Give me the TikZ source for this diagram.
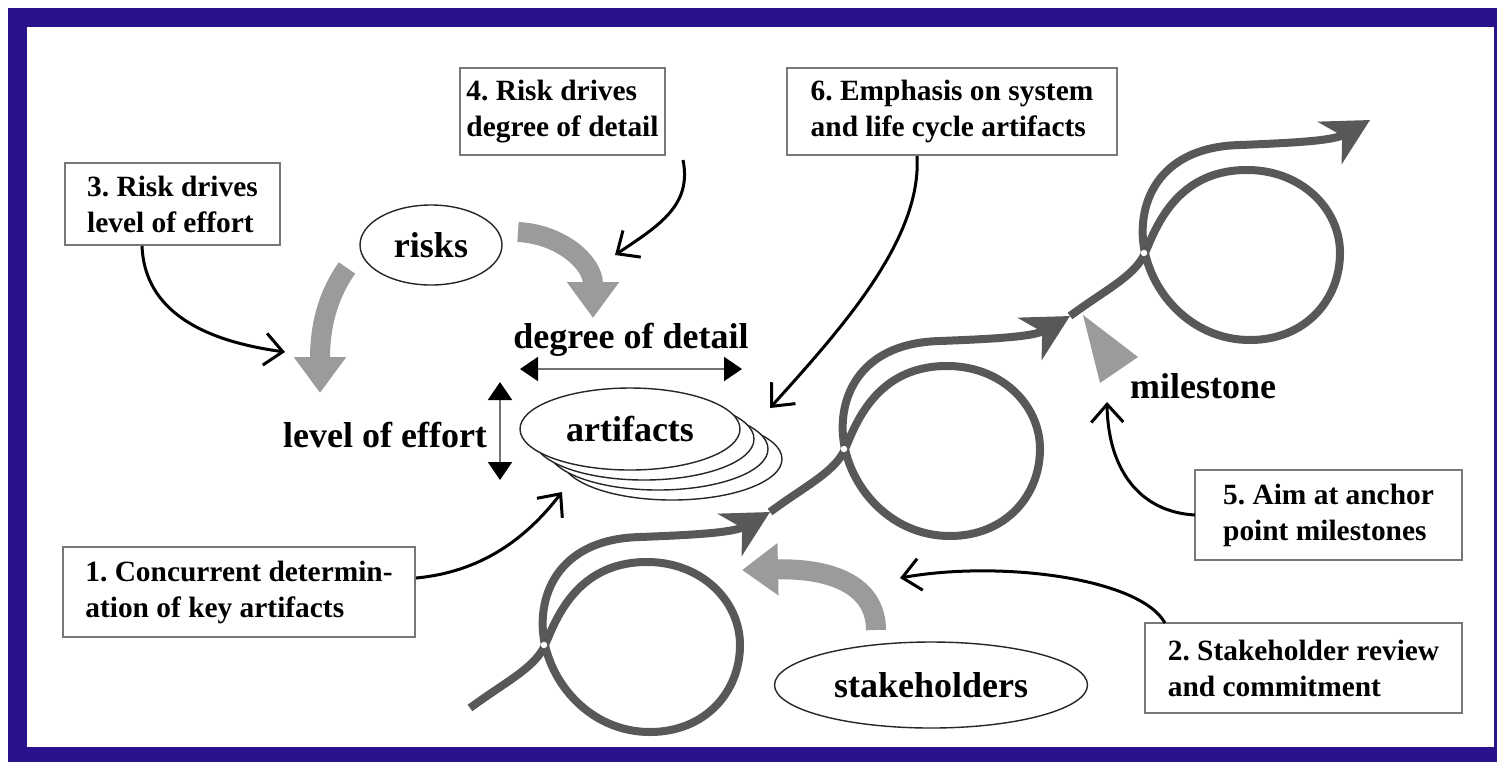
\documentclass[tikz,border=0pt]{standalone}
\usepackage{fontspec}
\setmainfont{Liberation Serif}
\usetikzlibrary{arrows.meta,shapes.geometric}
\definecolor{framecol}{RGB}{42,18,140}
\definecolor{spiralcol}{RGB}{88,88,88}
\definecolor{thickgray}{RGB}{155,155,155}
\definecolor{boxgray}{RGB}{120,120,120}
\begin{document}
\frenchspacing
\begin{tikzpicture}[x=0.5pt,y=-0.5pt,
  box/.style={draw=boxgray, line width=1pt, fill=white, inner xsep=0pt, inner ysep=0pt,
    align=left, font=\fontsize{14.7}{18}\selectfont\bfseries, anchor=center},
  oval/.style={draw=black!85, line width=0.7pt, fill=white, ellipse, inner sep=0pt},
  lbl/.style={font=\fontsize{18}{21}\selectfont\bfseries, inner sep=0pt},
  spiral/.style={draw=spiralcol, line width=4pt,
    -{Stealth[length=23pt,width=24pt,inset=7pt]}},
  grayarrow/.style={draw=thickgray, line width=10pt,
    -{Triangle[length=18pt,width=25pt]}},
  blackarrow/.style={draw=black, line width=1.5pt,
    -{Straight Barb[length=9pt,width=16pt]}},
  dbl/.style={draw=black!55, line width=1pt,
    {Triangle[length=9pt,width=12pt,color=black]}-{Triangle[length=9pt,width=12pt,color=black]}}
]
\useasboundingbox (0,0) rectangle (1497,762);
\fill[white] (0,0) rectangle (1497,762);
\fill[framecol] (8,8) rectangle (1497,762);
\fill[white] (27,27) rectangle (1494,747);

% spiral
\foreach \s in {{(545,645)},{(845,449)},{(1145,253)}}{
  \draw[spiral,shift=\s] (-75,63) .. controls (-40,37) and (-10,23) .. (0,0)
    .. controls (10,-23) and (30,-82) .. (100,-83)
    .. controls (155,-84) and (195,-45) .. (195,0)
    .. controls (195,47) and (160,87) .. (105,87)
    .. controls (50,87) and (10,45) .. (0,0)
    .. controls (-10,-45) and (10,-106) .. (95,-108)
    .. controls (145,-110) and (188,-112) .. (225,-133);
  \fill[white,shift=\s] (-1,0) circle (1.6pt);
}

% milestone triangle
\fill[thickgray] (1083,315) -- (1138,357) -- (1100,383) -- cycle;

% boxes
\node[box, minimum width=107.5pt, minimum height=41pt] (b3) at (172.5,204) {3. Risk drives\\level of effort};
\node[box, minimum width=102.5pt, minimum height=43.5pt] (b4) at (562.5,111.5) {4. Risk drives\\degree of detail};
\node[box, minimum width=165pt, minimum height=43.5pt] (b6) at (952,111.5) {6. Emphasis on system\\and life cycle artifacts};
\node[box, minimum width=176pt, minimum height=45pt] (b1) at (239,592) {1. Concurrent determin-\\ation of key artifacts};
\node[box, minimum width=133.5pt, minimum height=45pt] (b5) at (1328.5,515) {5. Aim at anchor\\point milestones};
\node[box, minimum width=158.5pt, minimum height=45pt] (b2) at (1303.5,668) {2. Stakeholder review\\and commitment};

% ellipses
\node[oval, minimum width=71pt, minimum height=40pt, font=\fontsize{18}{21}\selectfont\bfseries] (risks) at (431,245) {risks};
\node[oval, minimum width=110pt, minimum height=41pt] (art4) at (672,459) {};
\node[oval, minimum width=110pt, minimum height=41pt] (art3) at (658,449) {};
\node[oval, minimum width=110pt, minimum height=41pt] (art2) at (644,439) {};
\node[oval, minimum width=110pt, minimum height=41pt, font=\fontsize{18}{21}\selectfont\bfseries] (art) at (630,429) {artifacts};
\node[oval, minimum width=156.5pt, minimum height=43pt, font=\fontsize{18}{21}\selectfont\bfseries] (stake) at (931,685) {stakeholders};

% labels
\node[lbl] (dod) at (631,340) {degree of detail};
\node[lbl] (loe) at (385,435) {level of effort};
\node[lbl] (mile) at (1203,386) {milestone};

% double arrows
\coordinate (hL) at (520,369);
\coordinate (hR) at (742,369);
\coordinate (vT) at (500,382);
\coordinate (vB) at (500,480);
\draw[dbl] (hL) -- (hR);
\draw[dbl] (vT) -- (vB);

% thick gray arrows
\coordinate (g1s) at (347,268); \coordinate (g1e) at (320,393);
\coordinate (g2s) at (518,232); \coordinate (g2e) at (593,318);
\coordinate (g3s) at (876,630); \coordinate (g3e) at (742,570);
\draw[grayarrow] (g1s) .. controls (328,295) and (320,325) .. (g1e);
\draw[grayarrow] (g2s) .. controls (560,234) and (593,262) .. (g2e);
\draw[grayarrow] (g3s) .. controls (876,590) and (840,568) .. (g3e);

% black arrows
\coordinate (k3s) at (142,246); \coordinate (k3e) at (285,352);
\coordinate (k4s) at (683,160); \coordinate (k4e) at (615,255);
\coordinate (k6s) at (917,156); \coordinate (k6e) at (770,408);
\coordinate (k1s) at (416,578); \coordinate (k1e) at (562,492);
\coordinate (k5s) at (1195,515); \coordinate (k5e) at (1107,402);
\coordinate (k2s) at (1165,623); \coordinate (k2e) at (900,578);
\draw[blackarrow] (k3s) .. controls (145,320) and (220,343) .. (k3e);
\draw[blackarrow] (k4s) .. controls (692,205) and (660,225) .. (k4e);
\draw[blackarrow] (k6s) .. controls (922,240) and (840,330) .. (k6e);
\draw[blackarrow] (k1s) .. controls (480,572) and (525,540) .. (k1e);
\draw[blackarrow] (k5s) .. controls (1140,512) and (1108,470) .. (k5e);
\draw[blackarrow] (k2s) .. controls (1140,578) and (1000,560) .. (k2e);
\end{tikzpicture}
\end{document}
